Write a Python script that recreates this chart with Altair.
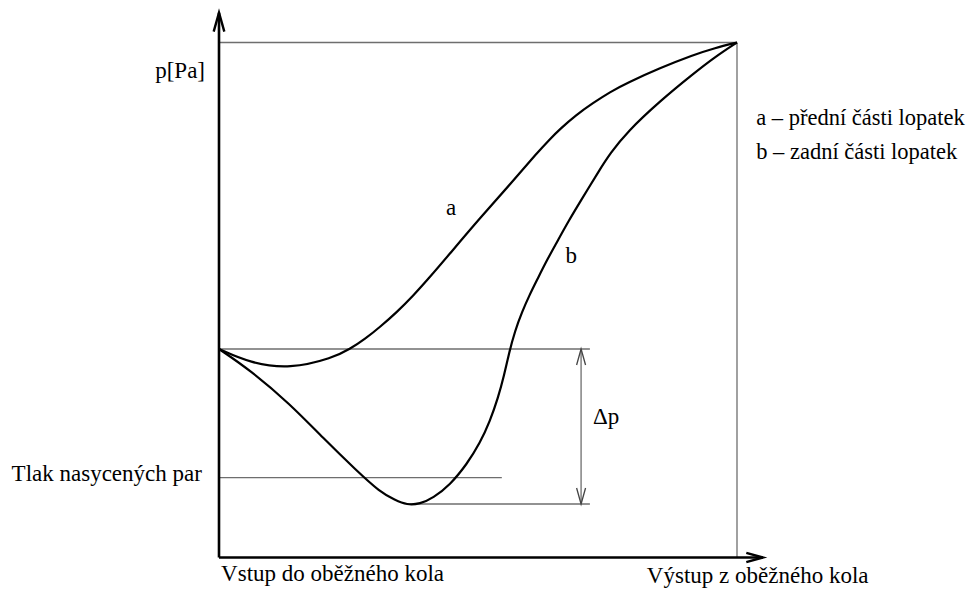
import altair as alt
import pandas as pd

# ---------------- values ----------------
# position along the blade channel (0 = inlet, 100 = outlet), pressure (0..100)
pos_a = [0, 5.98, 13.71, 22.01, 25.29, 28.19, 31.08, 34.36, 37.45, 40.73, 44.02, 50.39, 56.76,
         61.39, 63.9, 65.83, 68.92, 72.2, 75.48, 78.76, 85.14, 91.51, 95.75, 100]
p_a = [40.49, 37.77, 36.6, 38.74, 40.49, 42.43, 44.76, 47.67, 50.78, 54.47, 58.35, 65.92, 73.11,
       78.54, 81.26, 83.2, 85.92, 88.25, 90.39, 92.14, 95.05, 97.57, 98.93, 100]

pos_b = [0, 5.98, 13.71, 20.08, 26.64, 31.08, 33.98, 36.29, 38.8, 41.31, 44.59, 47.88, 50.39,
         52.32, 53.86, 55.02, 55.98, 57.14, 58.49, 60.04, 61.39, 63.32, 65.25, 67.37, 69.69,
         73.55, 75.48, 78.76, 85.14, 91.51, 95.75, 100]
p_b = [40.49, 36.41, 29.81, 23.2, 16.8, 12.72, 11.17, 10.2, 10.4, 11.55, 14.08, 18.16, 22.23,
       26.5, 30.97, 35.24, 39.71, 43.98, 47.67, 51.17, 53.88, 57.77, 61.26, 65.15, 69.03,
       75.4, 78.4, 82.62, 88.64, 93.88, 97.18, 100]

p_inlet = 40.49      # inlet pressure level
p_outlet = 100       # outlet pressure level
p_sat = 15.5         # saturated vapour pressure
p_min = 10.39        # minimum of curve b
x_min_b = 36.29      # position of minimum of b
x_sat_end = 54.6     # end of saturation line
x_ref_end = 71.6     # end of reference lines
x_dp = 69.9          # position of the delta-p dimension
x_outlet = 100
y_axis_end = 105.8
x_axis_end = 105.0

curve_labels = ["a", "b"]
curve_label_x = [44.8, 68.0]
curve_label_y = [66.5, 57.2]

texts = ["p[Pa]", "Tlak nasycených par", "Vstup do oběžného kola", "Výstup z oběžného kola", "Δp"]
text_x = [-2.7, -3.3, 0.4, 82.6, 72.2]
text_y = [93.1, 14.95, -4.66, -5.0, 25.9]
text_align = ["right", "right", "left", "left", "left"]

legend_texts = ["a – přední části lopatek", "b – zadní části lopatek"]
legend_x = [103.7, 103.7]
legend_y = [83.9, 77.4]

# ---------------- tables ----------------
curves = pd.concat([
    pd.DataFrame({"x": pos_a, "y": p_a, "c": "a", "o": range(len(pos_a))}),
    pd.DataFrame({"x": pos_b, "y": p_b, "c": "b", "o": range(len(pos_b))}),
])

thin = pd.DataFrame({
    "x": [0, x_outlet, 0, 0, x_min_b, x_dp],
    "x2": [x_outlet, x_outlet, x_ref_end, x_sat_end, x_ref_end, x_dp],
    "y": [p_outlet, 0, p_inlet, p_sat, p_min, p_min],
    "y2": [p_outlet, p_outlet, p_inlet, p_sat, p_min, p_inlet],
})

axes_df = pd.DataFrame({"x": [0, 0], "x2": [0, x_axis_end], "y": [0, 0], "y2": [y_axis_end, 0]})

big_heads = pd.DataFrame({"x": [0, x_axis_end], "y": [y_axis_end, 0], "ang": [0, 90], "s": [1444, 1100]})
small_heads = pd.DataFrame({"x": [x_dp, x_dp], "y": [p_inlet, p_min], "ang": [0, 180]})

txt = pd.DataFrame({"t": texts, "x": text_x, "y": text_y, "al": text_align})
leg = pd.DataFrame({"t": legend_texts, "x": legend_x, "y": legend_y})
lbl = pd.DataFrame({"t": curve_labels, "x": curve_label_x, "y": curve_label_y})

# ---------------- layout ----------------
W, H = 960, 581
PX_PER_X, PX_PER_Y = 5.18, 5.15
X0_PX, Y0_PX = 219 - 8, 557.5 - 8
xd0 = -X0_PX / PX_PER_X
xd1 = xd0 + W / PX_PER_X
yd1 = Y0_PX / PX_PER_Y
yd0 = yd1 - H / PX_PER_Y

xs = alt.Scale(domain=[xd0, xd1], nice=False, zero=False)
ys = alt.Scale(domain=[yd0, yd1], nice=False, zero=False)
X = alt.X("x:Q", scale=xs, axis=None)
Y = alt.Y("y:Q", scale=ys, axis=None)

FONT = "Liberation Serif"
ARROW = "M -0.28 1 L 0 0 L 0.28 1"

curve_layer = alt.Chart(curves).mark_line(
    color="black", strokeWidth=2.2, interpolate="basis"
).encode(x=X, y=Y, detail="c:N", order="o:Q")

thin_layer = alt.Chart(thin).mark_rule(color="#6e6e6e", strokeWidth=1.3).encode(
    x=X, x2="x2:Q", y=Y, y2="y2:Q")

axes_layer = alt.Chart(axes_df).mark_rule(color="black", strokeWidth=2.6).encode(
    x=X, x2="x2:Q", y=Y, y2="y2:Q")

big_head_layer = alt.Chart(big_heads).mark_point(
    shape=ARROW, filled=False, color="black", strokeWidth=2.4, opacity=1
).encode(x=X, y=Y, angle=alt.Angle("ang:Q", scale=None), size=alt.Size("s:Q", scale=None))

small_head_layer = alt.Chart(small_heads).mark_point(
    shape=ARROW, filled=False, color="#444444", strokeWidth=1.3, size=1024, opacity=1
).encode(x=X, y=Y, angle=alt.Angle("ang:Q", scale=None))

text_left = alt.Chart(txt[txt.al == "left"]).mark_text(
    font=FONT, fontSize=23, color="black", baseline="alphabetic", align="left"
).encode(x=X, y=Y, text="t:N")
text_right = alt.Chart(txt[txt.al == "right"]).mark_text(
    font=FONT, fontSize=23, color="black", baseline="alphabetic", align="right"
).encode(x=X, y=Y, text="t:N")
legend_layer = alt.Chart(leg).mark_text(
    font=FONT, fontSize=22.5, color="black", baseline="alphabetic", align="left"
).encode(x=X, y=Y, text="t:N")
label_layer = alt.Chart(lbl).mark_text(
    font=FONT, fontSize=23, color="black", baseline="alphabetic", align="center"
).encode(x=X, y=Y, text="t:N")

chart = alt.layer(
    thin_layer, curve_layer, axes_layer, big_head_layer, small_head_layer,
    text_left, text_right, legend_layer, label_layer
).properties(
    width=W, height=H, autosize=alt.AutoSizeParams(type="none"), padding=0
).configure_view(stroke=None)

chart.save("out.html", embed_options={"renderer": "svg", "actions": False})
